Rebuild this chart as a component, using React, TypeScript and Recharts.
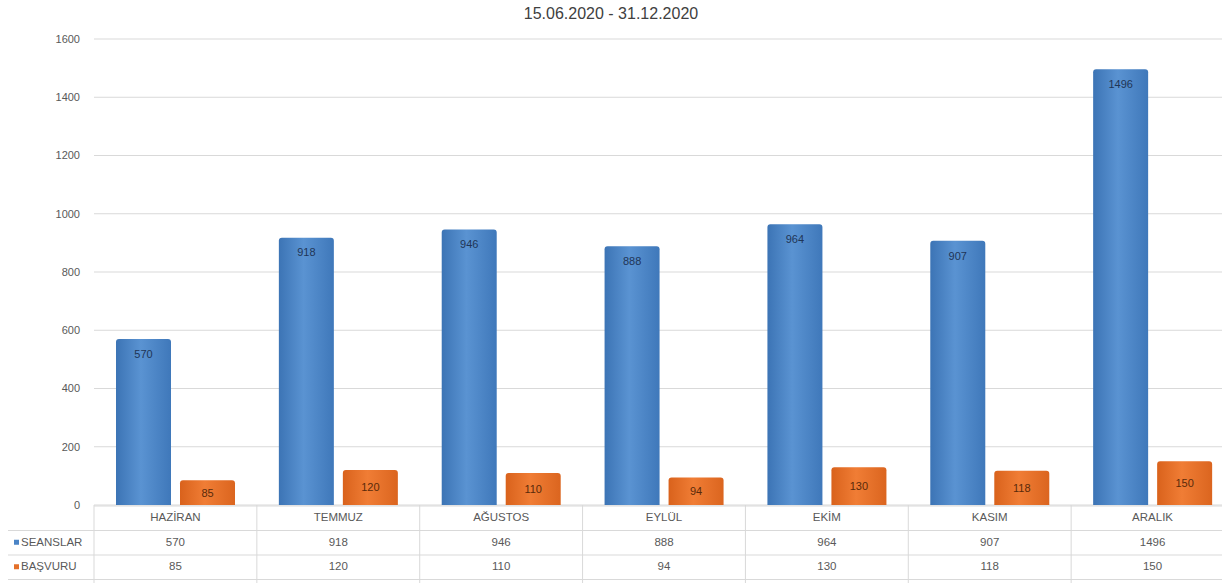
import React from 'react';
import { BarChart, Bar, XAxis, YAxis, CartesianGrid, LabelList } from 'recharts';

const months = ['HAZİRAN', 'TEMMUZ', 'AĞUSTOS', 'EYLÜL', 'EKİM', 'KASIM', 'ARALIK'];
const seanslar = [570, 918, 946, 888, 964, 907, 1496];
const basvuru = [85, 120, 110, 94, 130, 118, 150];
const yTicks = [0, 200, 400, 600, 800, 1000, 1200, 1400, 1600];

const TITLE = '15.06.2020 - 31.12.2020';
const SERIES = [
  { key: 'seanslar', name: 'SEANSLAR', color: '#4a84c6', values: seanslar },
  { key: 'basvuru', name: 'BAŞVURU', color: '#e4702a', values: basvuru },
];

const data = months.map((m, i) => ({ month: m, seanslar: seanslar[i], basvuru: basvuru[i] }));

const CHART_W = 1234;
const CHART_H = 583;
const PLOT_LEFT = 94;
const PLOT_TOP = 39;
const PLOT_BOTTOM = 505;
const BAND = (CHART_W - PLOT_LEFT) / months.length;
const ROW_H = 24.5;
const FONT = '"Liberation Sans", Arial, sans-serif';
const LINE = '#d9d9d9';
const TXT = '#595959';

// each x tick draws its own column of the data table under the chart
const TableTick = (props: any) => {
  const { x, payload } = props;
  const i = payload.index;
  const left = x - BAND / 2;
  const right = x + BAND / 2;
  const rows = [PLOT_BOTTOM, PLOT_BOTTOM + ROW_H, PLOT_BOTTOM + ROW_H * 2, PLOT_BOTTOM + ROW_H * 3];
  return (
    <g fontFamily={FONT} fontSize={11.5} fill={TXT}>
      {i === 0 && (
        <g>
          {rows.map((ry, k) => (
            <line key={k} x1={k === 0 ? PLOT_LEFT : 8} x2={CHART_W} y1={ry + 1} y2={ry + 1} stroke={LINE} />
          ))}
          <line x1={left} x2={left} y1={PLOT_BOTTOM} y2={CHART_H} stroke={LINE} />
          {SERIES.map((s, k) => (
            <g key={s.key}>
              <rect x={14} y={rows[k + 1] + ROW_H / 2 - 2} width={5} height={5} fill={s.color} />
              <text x={21} y={rows[k + 1] + ROW_H / 2 + 4} fill={TXT}>{s.name}</text>
            </g>
          ))}
        </g>
      )}
      <line x1={right} x2={right} y1={PLOT_BOTTOM} y2={CHART_H} stroke={LINE} />
      <text x={x} y={rows[0] + ROW_H / 2 + 4} textAnchor="middle">{payload.value}</text>
      {SERIES.map((s, k) => (
        <text key={s.key} x={x} y={rows[k + 1] + ROW_H / 2 + 4} textAnchor="middle">
          {s.values[i]}
        </text>
      ))}
    </g>
  );
};

const App: React.FC = () => {
  return (
    <div style={{ position: 'absolute', left: 0, top: 0, width: 1222, height: CHART_H, overflow: 'hidden', background: '#fff' }}>
      <div
        style={{
          position: 'absolute',
          top: 5,
          left: 0,
          width: 1222,
          textAlign: 'center',
          fontFamily: FONT,
          fontSize: 16,
          color: '#404040',
        }}
      >
        {TITLE}
      </div>
      <BarChart
        width={CHART_W}
        height={CHART_H}
        data={data}
        margin={{ top: PLOT_TOP, right: 0, bottom: 0, left: 0 }}
        barGap={9}
      >
        <defs>
          <linearGradient id="gBlue" x1="0" y1="0" x2="1" y2="0">
            <stop offset="0%" stopColor="#3c74b5" />
            <stop offset="45%" stopColor="#5a93d2" />
            <stop offset="100%" stopColor="#3f78ba" />
          </linearGradient>
          <linearGradient id="gOrange" x1="0" y1="0" x2="1" y2="0">
            <stop offset="0%" stopColor="#d9621c" />
            <stop offset="45%" stopColor="#f07d35" />
            <stop offset="100%" stopColor="#db651f" />
          </linearGradient>
        </defs>
        <CartesianGrid vertical={false} stroke={LINE} />
        <XAxis
          dataKey="month"
          height={CHART_H - PLOT_BOTTOM}
          axisLine={false}
          tickLine={false}
          interval={0}
          tick={<TableTick />}
        />
        <YAxis
          width={PLOT_LEFT}
          domain={[0, 1600]}
          ticks={yTicks}
          axisLine={false}
          tickLine={false}
          tickMargin={8}
          tick={{ fontSize: 11, fill: TXT, fontFamily: FONT }}
        />
        <Bar dataKey="seanslar" name="SEANSLAR" fill="url(#gBlue)" barSize={55} radius={[3, 3, 0, 0]} isAnimationActive={false}>
          <LabelList dataKey="seanslar" position="insideTop" offset={11} fill="#1f3556" fontSize={11} fontFamily={FONT} />
        </Bar>
        <Bar dataKey="basvuru" name="BAŞVURU" fill="url(#gOrange)" barSize={55} radius={[3, 3, 0, 0]} isAnimationActive={false}>
          <LabelList dataKey="basvuru" position="center" fill="#5a2a0a" fontSize={11} fontFamily={FONT} />
        </Bar>
      </BarChart>
    </div>
  );
};

export default App;
